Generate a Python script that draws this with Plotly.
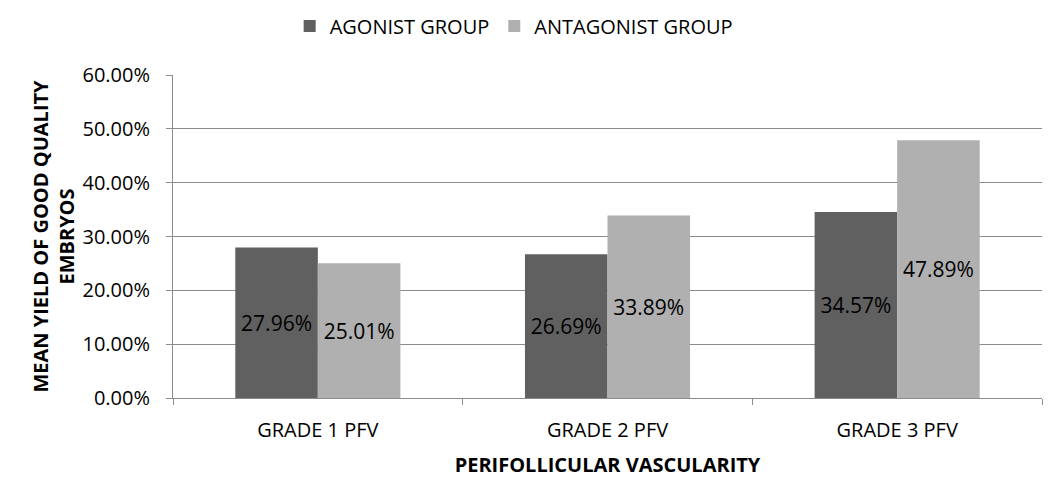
import plotly.graph_objects as go

categories = ["GRADE 1 PFV", "GRADE 2 PFV", "GRADE 3 PFV"]
agonist = [27.96, 26.69, 34.57]
antagonist = [25.01, 33.89, 47.89]
series_names = ["AGONIST GROUP", "ANTAGONIST GROUP"]
y_ticks = [0, 10, 20, 30, 40, 50, 60]
y_tick_labels = ["0.00%", "10.00%", "20.00%", "30.00%", "40.00%", "50.00%", "60.00%"]

FONT = "Open Sans"

fig = go.Figure()
for name, vals, col in [(series_names[0], agonist, "#606060"), (series_names[1], antagonist, "#b0b0b0")]:
    fig.add_trace(go.Bar(
        x=categories, y=vals, name=name, marker=dict(color=col, line=dict(width=0)),
        text=[f"{v:.2f}%" for v in vals], textposition="inside", insidetextanchor="middle",
        textfont=dict(color="black", size=21, family=FONT), textangle=0,
    ))

fig.update_layout(
    width=1059, height=499,
    barmode="group", bargap=0.43, bargroupgap=0,
    plot_bgcolor="white", paper_bgcolor="white",
    margin=dict(l=173, r=17, t=75, b=101),
    font=dict(family=FONT, size=20, color="black"),
    legend=dict(orientation="h", x=0.392, xanchor="center", yref="container", y=0.948, yanchor="middle",
                font=dict(size=20), itemwidth=30, traceorder="normal", tracegroupgap=0),
)
fig.update_yaxes(
    range=[0, 60], tickvals=y_ticks, ticktext=y_tick_labels, automargin=False,
    showgrid=True, gridcolor="#8c8c8c", gridwidth=1,
    showline=True, linecolor="#8c8c8c", linewidth=1,
    ticks="outside", ticklen=6, tickcolor="#8c8c8c", ticklabelstandoff=12,
    tickfont=dict(size=20), zeroline=False,
    title=dict(text="<b>MEAN YIELD OF GOOD QUALITY<br>EMBRYOS</b>", font=dict(size=20), standoff=2),
)
fig.update_xaxes(
    automargin=False,
    showline=True, linecolor="#8c8c8c", linewidth=1,
    ticks="outside", ticklen=6, tickcolor="#8c8c8c", tickson="boundaries",
    ticklabelstandoff=14,
    tickfont=dict(size=20),
    title=dict(text="<b>PERIFOLLICULAR VASCULARITY</b>", font=dict(size=20), standoff=15),
)

fig.write_html("out.html", config={"displayModeBar": False},
               post_script="document.body.style.margin='0';")
